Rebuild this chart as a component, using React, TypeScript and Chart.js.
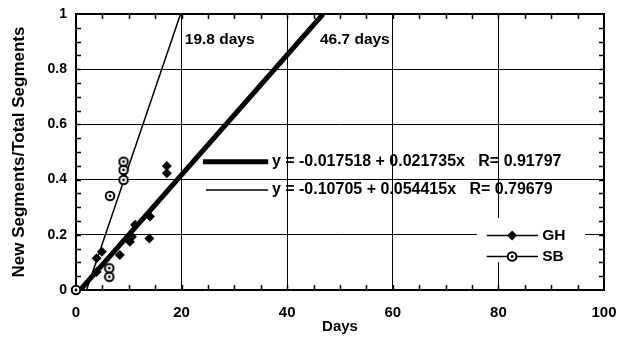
import React, { useEffect, useRef } from 'react';
import { Chart, registerables } from 'chart.js';
Chart.register(...registerables);

// ---- data ----
const ghX = [3.9, 3.9, 4.9, 8.3, 10.2, 10.6, 11.2, 13.9, 14.0, 17.2, 17.2];
const ghY = [0.065, 0.115, 0.139, 0.127, 0.175, 0.193, 0.236, 0.187, 0.266, 0.423, 0.449];
const sbX = [0, 6.3, 6.3, 6.45, 9.0, 9.0, 9.0];
const sbY = [0, 0.048, 0.079, 0.341, 0.399, 0.435, 0.465];
const ghFitX = [0.8, 46.8];
const ghFitY = [0, 1];
const sbFitX = [2.0, 19.8];
const sbFitY = [0, 1];
const yTickLabels = ['0', '0.2', '0.4', '0.6', '0.8', '1'];
const fitLabels = ['19.8 days', '46.7 days'];
const equations = ['y = -0.017518 + 0.021735x   R= 0.91797', 'y = -0.10705 + 0.054415x   R= 0.79679'];
const seriesNames = ['GH', 'SB'];
const xTitle = 'Days';
const yTitle = 'New Segments/Total Segments';

const FONT = '"Liberation Sans", Arial, Helvetica, sans-serif';

function pts(xs: number[], ys: number[]) {
  return xs.map((x, i) => ({ x, y: ys[i] }));
}

function makeSbMarker() {
  const c = document.createElement('canvas');
  c.width = 12;
  c.height = 12;
  const g = c.getContext('2d')!;
  g.fillStyle = '#fff';
  g.beginPath();
  g.arc(6, 6, 4.3, 0, Math.PI * 2);
  g.fill();
  g.lineWidth = 2;
  g.strokeStyle = '#000';
  g.stroke();
  g.fillStyle = '#000';
  g.beginPath();
  g.arc(6, 6, 1.4, 0, Math.PI * 2);
  g.fill();
  return c;
}

const framePlugin = {
  id: 'frameTicks',
  beforeDatasetsDraw(chart: any) {
    const { ctx, chartArea, scales } = chart;
    const { left, right, top, bottom } = chartArea;
    const x = scales.x;
    const y = scales.y;
    ctx.save();
    ctx.strokeStyle = '#000';
    ctx.lineWidth = 1.5;
    ctx.beginPath();
    for (let i = 1; i < 20; i++) {
      const px = Math.round(x.getPixelForValue(i * 5)) + 0.5;
      ctx.moveTo(px, bottom);
      ctx.lineTo(px, bottom - 5);
      ctx.moveTo(px, top);
      ctx.lineTo(px, top + 5);
    }
    for (let i = 1; i < 20; i++) {
      const py = Math.round(y.getPixelForValue(i * 0.05)) + 0.5;
      ctx.moveTo(left, py);
      ctx.lineTo(left + 5, py);
      ctx.moveTo(right, py);
      ctx.lineTo(right - 5, py);
    }
    ctx.stroke();
    ctx.lineWidth = 2;
    ctx.strokeRect(left, top, right - left, bottom - top);
    ctx.restore();
  },
};

const annotPlugin = {
  id: 'annot',
  afterDatasetsDraw(chart: any) {
    const { ctx, scales } = chart;
    const X = (v: number) => scales.x.getPixelForValue(v);
    const Y = (v: number) => scales.y.getPixelForValue(v);
    ctx.save();
    ctx.fillStyle = '#000';
    ctx.strokeStyle = '#000';
    ctx.font = 'bold 15.5px ' + FONT;
    ctx.textBaseline = 'middle';
    ctx.textAlign = 'left';
    // fit labels at top
    ctx.fillText(fitLabels[0], X(20.6), Y(0.906));
    ctx.fillText(fitLabels[1], X(46.2), Y(0.906));
    // equation legend
    ctx.lineWidth = 5;
    ctx.beginPath();
    ctx.moveTo(X(24.05), Y(0.465));
    ctx.lineTo(X(36.4), Y(0.465));
    ctx.stroke();
    ctx.lineWidth = 1.5;
    ctx.beginPath();
    ctx.moveTo(X(24.6), Y(0.362));
    ctx.lineTo(X(36.4), Y(0.362));
    ctx.stroke();
    ctx.font = 'bold 16px ' + FONT;
    ctx.fillText(equations[0], X(37.1), Y(0.464));
    ctx.fillText(equations[1], X(37.1), Y(0.362));
    // series legend box
    const bx0 = X(75.9), bx1 = X(96.4), by0 = Y(0.261), by1 = Y(0.101);
    ctx.fillStyle = '#fff';
    ctx.fillRect(bx0, by0, bx1 - bx0, by1 - by0);
    ctx.fillStyle = '#000';
    ctx.font = 'bold 15.5px ' + FONT;
    const rows = [0.2, 0.124];
    rows.forEach((ry, i) => {
      const py = Math.round(Y(ry)) + 0.5;
      ctx.lineWidth = 1.5;
      ctx.beginPath();
      ctx.moveTo(X(77.8), py);
      ctx.lineTo(X(87.5), py);
      ctx.stroke();
      const mx = X(82.6);
      if (i === 0) {
        ctx.beginPath();
        ctx.moveTo(mx, py - 5);
        ctx.lineTo(mx + 5, py);
        ctx.lineTo(mx, py + 5);
        ctx.lineTo(mx - 5, py);
        ctx.closePath();
        ctx.fill();
      } else {
        ctx.fillStyle = '#fff';
        ctx.beginPath();
        ctx.arc(mx, py, 4.3, 0, Math.PI * 2);
        ctx.fill();
        ctx.lineWidth = 2;
        ctx.stroke();
        ctx.fillStyle = '#000';
        ctx.beginPath();
        ctx.arc(mx, py, 1.4, 0, Math.PI * 2);
        ctx.fill();
      }
      ctx.fillText(seriesNames[i], X(88.3), py);
    });
    ctx.restore();
  },
};

export default function App() {
  const ref = useRef<HTMLCanvasElement | null>(null);
  useEffect(() => {
    if (!ref.current) return;
    const sbMarker = makeSbMarker();
    const chart = new Chart(ref.current, {
      type: 'scatter',
      data: {
        datasets: [
          {
            label: seriesNames[0],
            data: pts(ghX, ghY),
            pointStyle: 'rectRot',
            pointRadius: 5,
            backgroundColor: '#000',
            borderColor: '#000',
            borderWidth: 0,
            clip: false as any,
          },
          {
            label: seriesNames[1],
            data: pts(sbX, sbY),
            pointStyle: sbMarker as any,
            pointRadius: 6,
            clip: false as any,
          },
          {
            label: 'GH fit',
            data: pts(ghFitX, ghFitY),
            showLine: true,
            borderColor: '#000',
            borderWidth: 5,
            pointRadius: 0,
          },
          {
            label: 'SB fit',
            data: pts(sbFitX, sbFitY),
            showLine: true,
            borderColor: '#000',
            borderWidth: 1.5,
            pointRadius: 0,
          },
        ],
      },
      options: {
        animation: false,
        responsive: false,
        maintainAspectRatio: false,
        layout: { padding: { left: 0, right: 0, top: 14, bottom: 0 } },
        plugins: { legend: { display: false }, tooltip: { enabled: false } },
        scales: {
          x: {
            type: 'linear',
            min: 0,
            max: 100,
            ticks: { stepSize: 20, color: '#000', font: { family: FONT, size: 15, weight: 'bold' }, padding: 14 },
            grid: { color: '#000', lineWidth: 1, drawTicks: false },
            border: { display: true, color: '#000', width: 2 },
            title: { display: true, text: xTitle, color: '#000', font: { family: FONT, size: 15, weight: 'bold' }, padding: { top: 0, bottom: 5 } },
            afterFit: (s: any) => { s.height = 51; s.paddingRight = 13; s.paddingLeft = 0; },
          },
          y: {
            type: 'linear',
            min: 0,
            max: 1,
            ticks: {
              stepSize: 0.2,
              color: '#000',
              font: { family: FONT, size: 14, weight: 'bold' },
              padding: 9,
              callback: (_v: any, i: number) => yTickLabels[i],
            },
            grid: { color: '#000', lineWidth: 1, drawTicks: false },
            border: { display: true, color: '#000', width: 2 },
            title: { display: true, text: yTitle, color: '#000', font: { family: FONT, size: 17, weight: 'bold' }, padding: { top: 9, bottom: 0 } },
            afterFit: (s: any) => { s.width = 76; s.paddingTop = 0; s.paddingBottom = 0; },
          },
        },
      },
      plugins: [framePlugin, annotPlugin],
    });
    return () => chart.destroy();
  }, []);
  return (
    <div style={{ position: 'absolute', left: 0, top: 0, width: 617, height: 341, background: '#fff' }}>
      <canvas ref={ref} width={617} height={341} />
    </div>
  );
}
